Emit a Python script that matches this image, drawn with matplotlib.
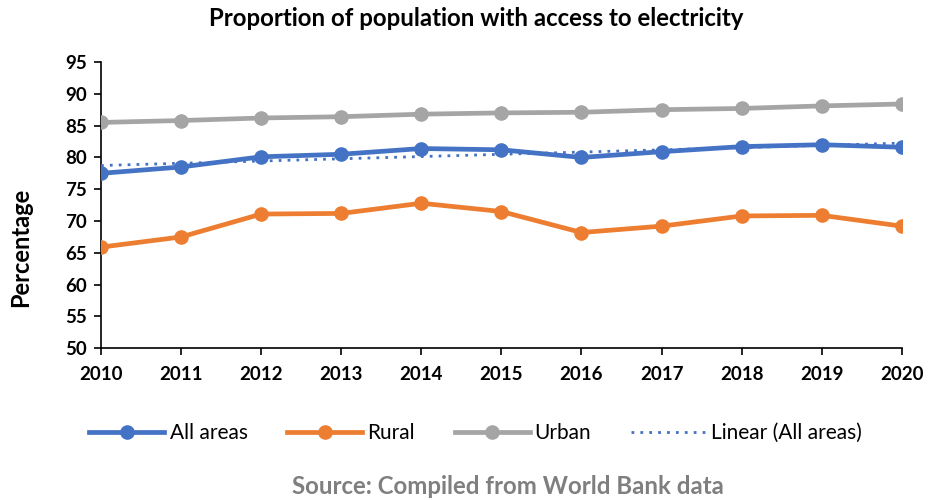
import numpy as np
import matplotlib
matplotlib.use("Agg")
import matplotlib.pyplot as plt

plt.rcParams['font.family'] = ['Lato', 'DejaVu Sans']

years = [2010, 2011, 2012, 2013, 2014, 2015, 2016, 2017, 2018, 2019, 2020]
all_areas = [77.5, 78.5, 80.1, 80.5, 81.4, 81.2, 80.0, 80.9, 81.7, 82.0, 81.6]
rural = [65.9, 67.5, 71.1, 71.2, 72.8, 71.5, 68.2, 69.2, 70.8, 70.9, 69.2]
urban = [85.5, 85.8, 86.2, 86.4, 86.8, 87.0, 87.1, 87.5, 87.7, 88.1, 88.4]
y_ticks = [50, 55, 60, 65, 70, 75, 80, 85, 90, 95]

c_all = '#4472C4'
c_rural = '#ED7D31'
c_urban = '#A5A5A5'

fig = plt.figure(figsize=(9.29, 5.0), dpi=100)
ax = fig.add_axes([0.1087, 0.3034, 0.862, 0.5726])

x = np.array(years)
ax.plot(x, all_areas, color=c_all, lw=3.4, marker='o', ms=9.5, label='All areas', zorder=4)
ax.plot(x, rural, color=c_rural, lw=3.4, marker='o', ms=9.5, label='Rural', zorder=3)
ax.plot(x, urban, color=c_urban, lw=3.4, marker='o', ms=9.5, label='Urban', zorder=3)

# least-squares trend of the "All areas" series
coef = np.polyfit(x, all_areas, 1)
ax.plot(x, np.polyval(coef, x), color=c_all, lw=2, ls=(0, (1, 2.2)),
        label='Linear (All areas)', zorder=5)

ax.set_xlim(2010, 2020)
ax.set_ylim(50, 95)
ax.set_xticks(years)
ax.set_yticks(y_ticks)
ax.tick_params(axis='both', direction='out', length=5, width=1.2, labelsize=13.5, pad=5)
for lab in ax.get_xticklabels() + ax.get_yticklabels():
    lab.set_fontweight('bold')
for s in ['top', 'right']:
    ax.spines[s].set_visible(False)
for s in ['left', 'bottom']:
    ax.spines[s].set_linewidth(1.2)
    ax.spines[s].set_color('black')
ax.tick_params(axis='x', pad=8)

ax.set_ylabel('Percentage', fontsize=17, fontweight='bold')
ax.yaxis.set_label_coords(-0.086, 0.353)
fig.text(0.513, 0.962, 'Proportion of population with access to electricity',
         ha='center', va='center', fontsize=17.3, fontweight='bold')

leg = fig.legend(loc='center', bbox_to_anchor=(0.512, 0.134), ncol=4, frameon=False,
                 fontsize=15, handlelength=3.6, columnspacing=1.9, handletextpad=0.25)
fig.text(0.547, 0.026, 'Source: Compiled from World Bank data', ha='center', va='center',
         fontsize=17.3, fontweight='bold', color='#7F7F7F')

fig.savefig('out.png', dpi=100)
